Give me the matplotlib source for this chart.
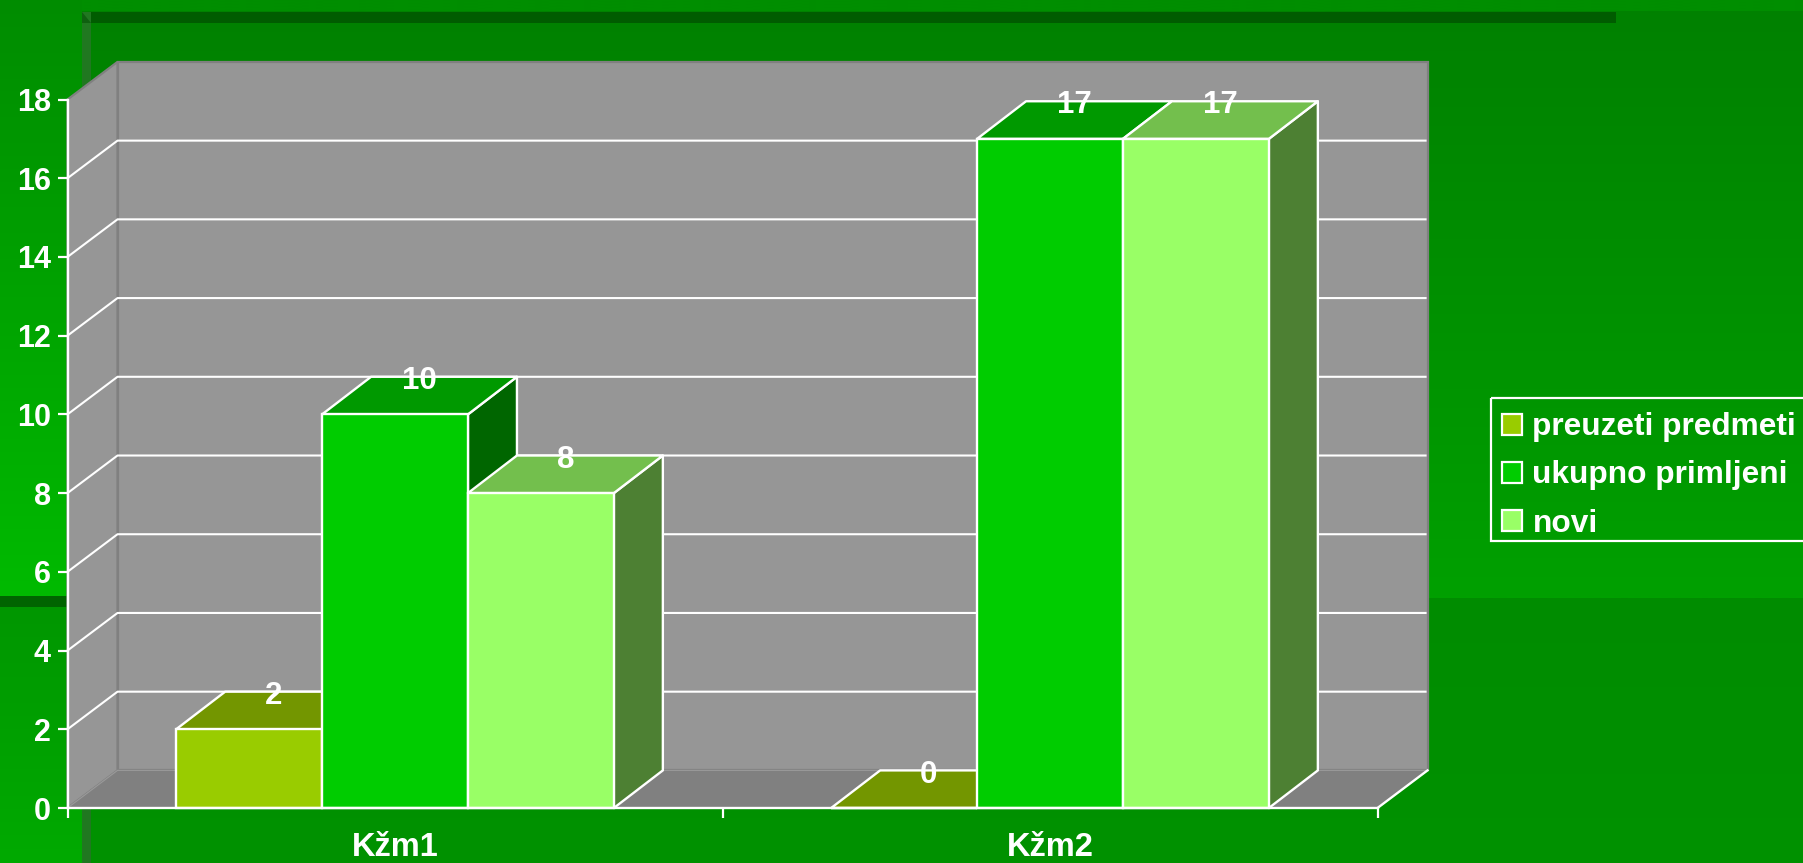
import numpy as np
import matplotlib
matplotlib.use("Agg")
import matplotlib.pyplot as plt
from matplotlib.patches import Patch, Polygon, Rectangle
from matplotlib.colors import to_rgb

categories = ["Kžm1", "Kžm2"]
series_names = ["preuzeti predmeti", "ukupno primljeni", "novi"]
preuzeti = [2, 0]
ukupno = [10, 17]
novi = [8, 17]
series_values = [preuzeti, ukupno, novi]
y_ticks = list(range(0, 20, 2))
front_colors = ["#99cc00", "#00cc00", "#99ff66"]
top_colors = ["#739600", "#009900", "#73bf4d"]
side_colors = ["#4f6600", "#006600", "#4d8033"]

W, H, DPI = 1803, 863, 100
plt.rcParams["font.family"] = ["Liberation Sans", "DejaVu Sans"]
plt.rcParams["font.weight"] = "bold"
FS = 22.5
fig = plt.figure(figsize=(W / DPI, H / DPI), dpi=DPI)

# slide background, in pixel coordinates
bg = fig.add_axes([0, 0, 1, 1], zorder=0)
bg.axis("off")

def vgrad(x0, x1, y0, y1, c0, c1):
    a, b = np.array(to_rgb(c0)), np.array(to_rgb(c1))
    t = np.linspace(0, 1, 128)[:, None, None]
    img = a[None, None, :] * (1 - t) + b[None, None, :] * t
    bg.imshow(img, extent=[x0, x1, y1, y0], aspect="auto", interpolation="bilinear", zorder=1)

vgrad(0, W, 0, 12, "#008e00", "#008e00")
vgrad(0, 82, 0, 596, "#008c00", "#00ba00")
vgrad(82, W, 12, 598, "#008100", "#00a000")
vgrad(82, W, 598, H, "#008c00", "#009200")
vgrad(0, 82, 596, H, "#009600", "#00aa00")
bg.set_xlim(0, W)
bg.set_ylim(H, 0)
bg.add_patch(Rectangle((82, 12), 1534, 11, fc="#005c00", ec="none", zorder=2))
bg.add_patch(Rectangle((82, 12), 9, H - 12, fc="#207820", ec="none", zorder=2))
bg.add_patch(Polygon([(82, 12), (91, 23), (82, 23)], fc="#0f6010", ec="none", zorder=3))
bg.add_patch(Rectangle((0, 596), 68, 11, fc="#006400", ec="none", zorder=2))
# legend frame runs off the slide's right edge
bg.add_patch(Rectangle((1491, 397.5), 330, 143.5, fc="none", ec="white", lw=1.6, zorder=4))

# chart: the axes is the front plane of the 3-D box
L, R, T, B = 67.5, 1377.5, 99.5, 808.0
ax = fig.add_axes([L / W, 1 - B / H, (R - L) / W, (B - T) / H], zorder=2)
ax.set_xlim(0, len(categories))
ax.set_ylim(0, 18)
ax.patch.set_alpha(0)
px = len(categories) / (R - L)
py = 18 / (B - T)
WDX, BDX, DY = 50 * px, 49 * px, 37.6 * py
BW = 145.9 * px
WHITE = "white"
LW = 1.7
YMAX = 18

# walls and floor
ax.add_patch(Polygon([(WDX, DY), (2 + WDX, DY), (2 + WDX, YMAX + DY), (WDX, YMAX + DY)],
                     fc="#969696", ec="#808080", lw=1.6, clip_on=False, zorder=1))
ax.add_patch(Polygon([(0, 0), (WDX, DY), (WDX, YMAX + DY), (0, YMAX)],
                     fc="#969696", ec="#808080", lw=1.6, clip_on=False, zorder=1))
ax.add_patch(Polygon([(0, 0), (2, 0), (2 + WDX, DY), (WDX, DY)],
                     fc="#808080", ec="#9a9a9a", lw=0.8, clip_on=False, zorder=1))
for v in y_ticks[1:-1]:
    ax.plot([0, WDX, 2 + WDX - 0.003], [v, v + DY, v + DY], color=WHITE, lw=1.5, clip_on=False, zorder=2)
ax.plot([2, 2 + WDX], [0, DY], color=WHITE, lw=1.7, clip_on=False, zorder=2)

# bars
z = 3
for i, cat in enumerate(categories):
    for j, vals in enumerate(series_values):
        v = vals[i]
        x0 = i + 0.5 + (j - 1.5) * BW
        x1 = x0 + BW
        ax.add_patch(Polygon([(x1, 0), (x1 + BDX, DY), (x1 + BDX, v + DY), (x1, v)],
                             fc=side_colors[j], ec=WHITE, lw=LW, clip_on=False, zorder=z, joinstyle="round"))
        ax.add_patch(Polygon([(x0, v), (x1, v), (x1 + BDX, v + DY), (x0 + BDX, v + DY)],
                             fc=top_colors[j], ec=WHITE, lw=LW, clip_on=False, zorder=z + 0.1, joinstyle="round"))
        ax.bar(x0, v, width=BW, align="edge", color=front_colors[j], edgecolor=WHITE, lw=LW,
               clip_on=False, zorder=z + 0.2)
        z += 1
for i, cat in enumerate(categories):
    for j, vals in enumerate(series_values):
        v = vals[i]
        x0 = i + 0.5 + (j - 1.5) * BW
        ax.annotate(str(v), (x0 + BW / 2 + BDX / 2, v + DY), xytext=(0, -3), textcoords="offset points",
                    color=WHITE, fontsize=FS, fontweight="bold", ha="center", va="center",
                    zorder=50, annotation_clip=False)

# axes
for s in ("top", "right"):
    ax.spines[s].set_visible(False)
for s in ("left", "bottom"):
    ax.spines[s].set_color(WHITE)
    ax.spines[s].set_linewidth(1.7)
    ax.spines[s].set_zorder(40)
ax.set_yticks(y_ticks)
ax.set_yticklabels([str(t) for t in y_ticks])
ax.tick_params(axis="y", colors=WHITE, length=7.2, width=1.6, pad=4.8, labelsize=22)
ax.set_xticks([i + 0.5 for i in range(len(categories))])
ax.set_xticklabels(categories)
ax.set_xticks(range(len(categories) + 1), minor=True)
ax.tick_params(axis="x", which="major", length=0, colors=WHITE, pad=17, labelsize=23.5)
ax.tick_params(axis="x", which="minor", length=7.2, width=1.6, color=WHITE)
for lab in ax.get_xticklabels() + ax.get_yticklabels():
    lab.set_fontweight("bold")

# legend
handles = [Patch(fc=c, ec=WHITE, lw=1.6, label=n) for c, n in zip(front_colors, series_names)]
leg = fig.legend(handles=handles, loc="upper left", bbox_to_anchor=(1491 / W, 1 - 401 / H),
                 borderaxespad=0, fontsize=22.8, frameon=False, labelcolor=WHITE,
                 handlelength=0.62, handleheight=0.62, handletextpad=0.33, labelspacing=0.57,
                 borderpad=0.36)
leg.set_zorder(60)

fig.savefig("out.png", dpi=DPI)
